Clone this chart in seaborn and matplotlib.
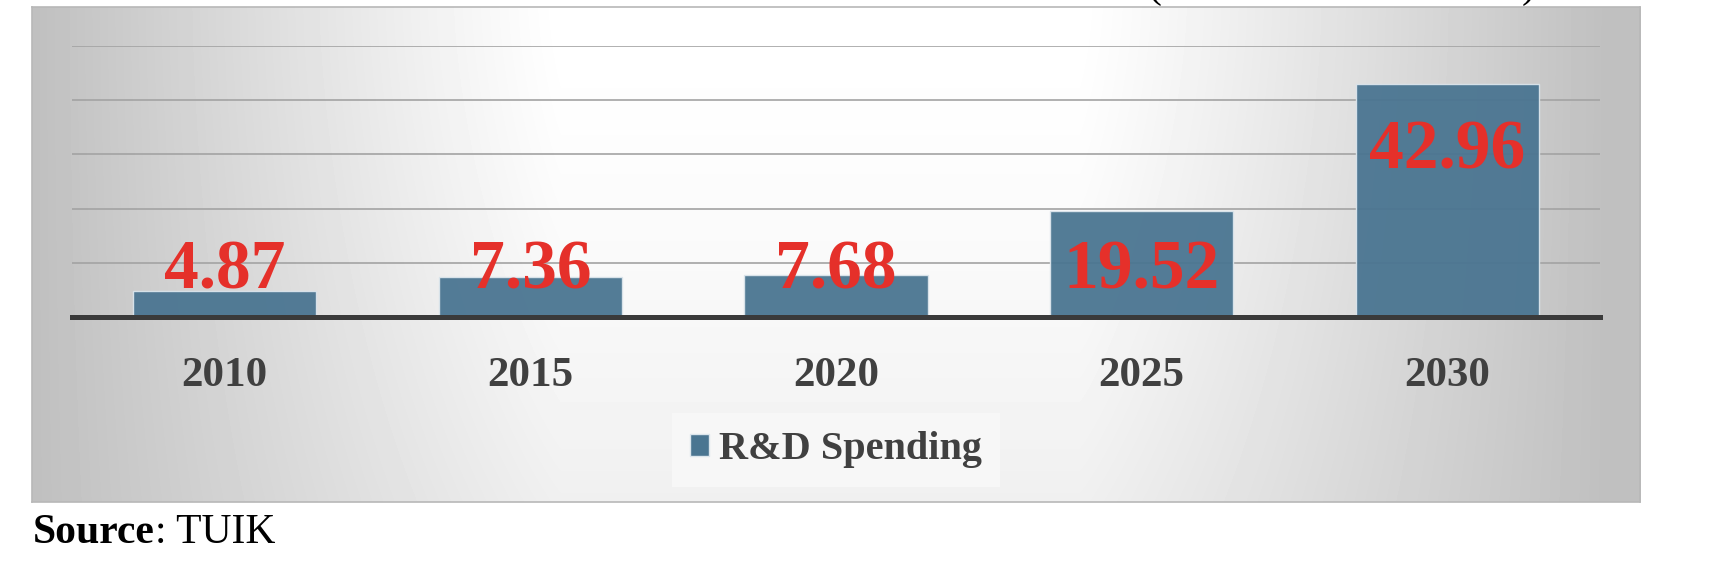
import matplotlib.pyplot as plt
import numpy as np
import pandas as pd
import seaborn as sns

years = ["2010", "2015", "2020", "2025", "2030"]
spending = [4.87, 7.36, 7.68, 19.52, 42.96]
series_name = "R&D Spending"
source_label = "Source"
source_name = ": TUIK"

bar_color = "#4A7591"
label_color = "#E5302A"
text_color = "#404040"


def draw_chart():
    df = pd.DataFrame({"year": years, "value": spending})

    sns.set_style("white")
    plt.rcParams["font.family"] = ["Liberation Serif", "DejaVu Serif"]

    fig = plt.figure(figsize=(17.1, 5.74), dpi=100)

    # grey gradient panel behind the chart, light in the middle, darker at the sides
    bg = fig.add_axes([32 / 1710, 1 - 502 / 574, 1608 / 1710, 495 / 574], zorder=-2)
    xx, yy = np.meshgrid(np.linspace(32, 1640, 400), np.linspace(7, 502, 150))
    d = np.abs(xx - 820)
    side = np.clip((d - 260) / 530, 0, 1) ** 1.1
    shade = 1 - 0.25 * side - 0.06 * ((yy - 7) / 495) ** 1.5 * (1 - side)
    bg.imshow(shade, cmap="gray", vmin=0, vmax=1, aspect="auto",
              extent=[0, 1, 0, 1], interpolation="bilinear")
    bg.set_xticks([])
    bg.set_yticks([])
    for sp in bg.spines.values():
        sp.set_color("#b8b8b8")
        sp.set_linewidth(1.2)

    ax = fig.add_axes([72 / 1710, 1 - 317 / 574, 1528 / 1710, 271 / 574])
    ax.set_facecolor("none")
    sns.barplot(data=df, x="year", y="value", color=bar_color, saturation=1,
                width=0.6, edgecolor="#dbe5ec", linewidth=1.0, alpha=0.95, ax=ax)

    ax.set_ylim(0, 50)
    ax.set_yticks(np.arange(0, 51, 10))
    ax.yaxis.grid(True, color="#a3a3a3", linewidth=1.2)
    ax.set_axisbelow(True)
    ax.tick_params(axis="y", left=False, labelleft=False)
    ax.tick_params(axis="x", bottom=False, pad=25, labelsize=31,
                   labelcolor=text_color)
    for lbl in ax.get_xticklabels():
        lbl.set_fontweight("bold")
    ax.set_xlabel("")
    ax.set_ylabel("")
    for s in ["top", "left", "right"]:
        ax.spines[s].set_visible(False)
    ax.spines["bottom"].set_color("#3a3a3a")
    ax.spines["bottom"].set_linewidth(3.6)

    for i, v in enumerate(spending):
        y = v - 15.5 if v > 30 else 5.35
        ax.text(i, y, f"{v:.2f}", ha="center", va="baseline", fontsize=50,
                fontweight="bold", color=label_color)

    handle = plt.Rectangle((0, 0), 1, 1, facecolor=bar_color, edgecolor="#dbe5ec")
    leg = fig.legend([handle], [series_name], loc="center",
                     bbox_to_anchor=(836 / 1710, 1 - 450 / 574),
                     prop={"weight": "bold", "size": 29},
                     handlelength=0.48, handleheight=0.48, handletextpad=0.25,
                     borderpad=0.45, frameon=True, fancybox=False)
    leg.get_frame().set_facecolor("#f8f8f8")
    leg.get_frame().set_edgecolor("none")
    leg.get_frame().set_alpha(0.9)
    for txt in leg.get_texts():
        txt.set_color(text_color)

    # cut-off heading above the panel
    fig.text(1147 / 1710, 1 + 3.5 / 574, "(", fontsize=30, va="baseline", color="black")
    fig.text(1522 / 1710, 1 + 3.5 / 574, ")", fontsize=30, va="baseline", color="black")

    src = fig.text(33 / 1710, 1 - 543 / 574, source_label, fontsize=30,
                   fontweight="bold", va="baseline", color="black")
    fig.add_artist(plt.Annotation(source_name, xy=(1, 0), xycoords=src,
                                  va="bottom", ha="left", fontsize=30, color="black"))

    plt.savefig("out.png", dpi=100)
    plt.close()


if __name__ == "__main__":
    draw_chart()
